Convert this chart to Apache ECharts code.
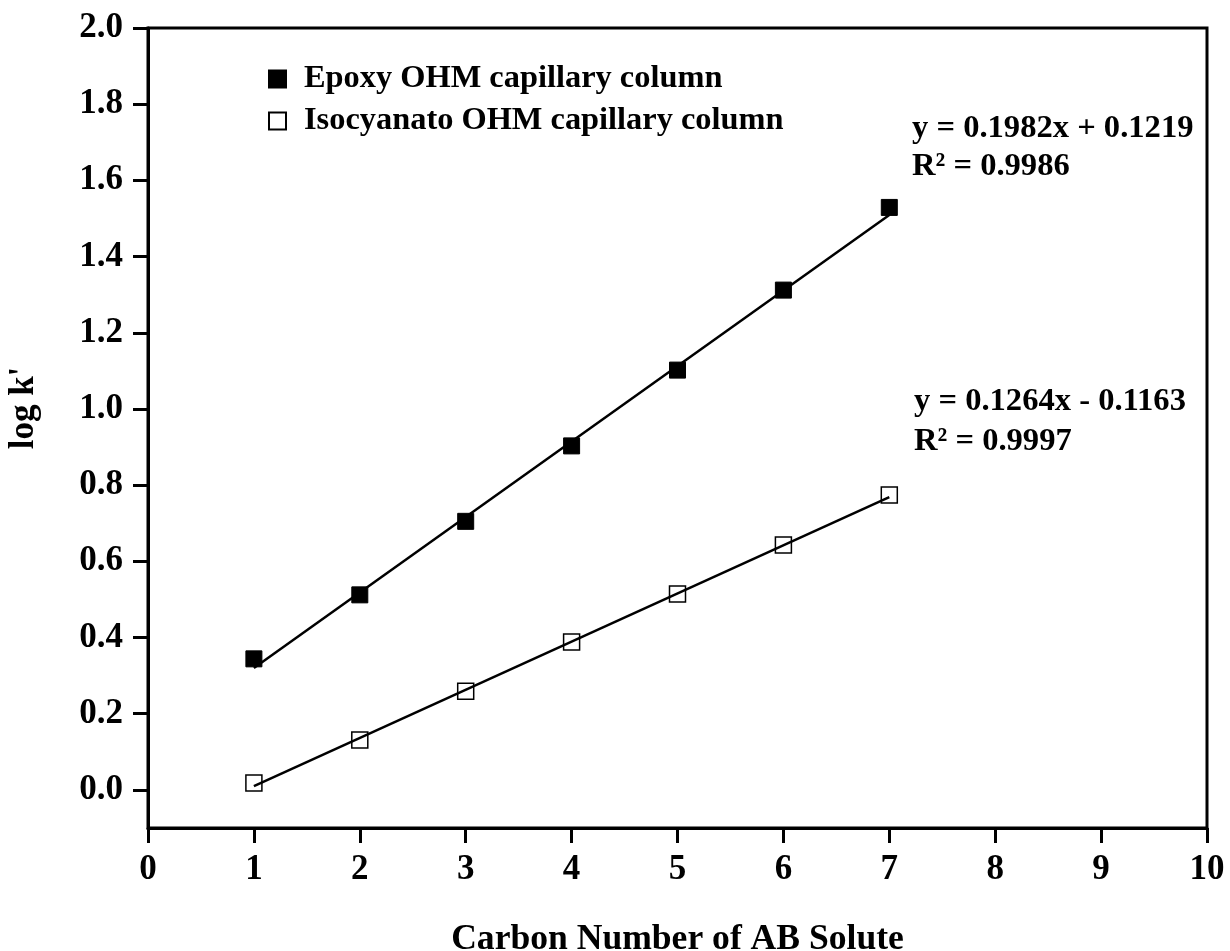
<!DOCTYPE html>
<html>
<head>
<meta charset="utf-8">
<script src="https://cdn.jsdelivr.net/npm/echarts@6/dist/echarts.min.js"></script>
<style>
  html, body { margin: 0; padding: 0; background: #fff; }
  #chart { width: 1230px; height: 951px; }
</style>
</head>
<body>
<div id="chart"></div>
<script>
// Carbon number of the alkylbenzene solutes
const carbonNumbers = [1, 2, 3, 4, 5, 6, 7];
// Measured log k' values
const epoxyLogK = [0.344, 0.512, 0.705, 0.903, 1.102, 1.312, 1.529];
const isocyanatoLogK = [0.018, 0.131, 0.259, 0.388, 0.514, 0.643, 0.774];
// Linear fits: [slope, intercept]
const epoxyFit = [0.1982, 0.1219];
const isocyanatoFit = [0.1264, -0.1163];
const epoxyR2 = '0.9986';
const isocyanatoR2 = '0.9997';
// Axis ticks
const xTicks = [0, 1, 2, 3, 4, 5, 6, 7, 8, 9, 10];
const yTicks = [0.0, 0.2, 0.4, 0.6, 0.8, 1.0, 1.2, 1.4, 1.6, 1.8, 2.0];

const seriesNames = ['Epoxy OHM capillary column', 'Isocyanato OHM capillary column'];

const FONT = '"Liberation Serif", "Times New Roman", serif';

function pairs(xs, ys) { return xs.map((x, i) => [x, ys[i]]); }
function fitLine(fit) {
  const x0 = carbonNumbers[0], x1 = carbonNumbers[carbonNumbers.length - 1];
  return [[x0, fit[0] * x0 + fit[1]], [x1, fit[0] * x1 + fit[1]]];
}
function eqText(fit) {
  const sign = fit[1] < 0 ? '-' : '+';
  return 'y = ' + fit[0].toFixed(4) + 'x ' + sign + ' ' + Math.abs(fit[1]).toFixed(4);
}

const chart = echarts.init(document.getElementById('chart'), null, { renderer: 'canvas' });

const labelStyle = { fontFamily: FONT, fontWeight: 'bold', fontSize: 35, color: '#000' };
const eqStyle = { fontFamily: FONT, fontWeight: 'bold', fontSize: 32.6, fill: '#000' };

chart.setOption({
  backgroundColor: '#fff',
  animation: false,
  grid: {
    left: 148, top: 28, right: 23, bottom: 123,
    containLabel: false, outerBoundsMode: 'none',
    show: true, borderColor: '#000', borderWidth: 3
  },
  legend: {
    data: seriesNames,
    orient: 'vertical',
    left: 268,
    top: 63,
    padding: 0,
    itemWidth: 17,
    itemHeight: 17,
    itemGap: 10,
    textStyle: { fontFamily: FONT, fontWeight: 'bold', fontSize: 32.4, color: '#000', lineHeight: 32, padding: [0, 0, 0, 13] }
  },
  xAxis: {
    type: 'value',
    min: xTicks[0],
    max: xTicks[xTicks.length - 1],
    interval: 1,
    name: 'Carbon Number of AB Solute',
    nameLocation: 'middle',
    nameGap: 94,
    nameTextStyle: { fontFamily: FONT, fontWeight: 'bold', fontSize: 35.6, color: '#000' },
    axisLine: { onZero: false, lineStyle: { color: '#000', width: 3 } },
    axisTick: { show: true, inside: false, length: 15, lineStyle: { color: '#000', width: 3 } },
    axisLabel: Object.assign({ margin: 24 }, labelStyle),
    splitLine: { show: false }
  },
  yAxis: {
    type: 'value',
    min: -0.1,
    max: 2.0,
    axisLine: { onZero: false, lineStyle: { color: '#000', width: 3 } },
    axisTick: { show: true, inside: false, length: 15, customValues: yTicks, lineStyle: { color: '#000', width: 3 } },
    axisLabel: Object.assign({ margin: 25, customValues: yTicks, formatter: v => v.toFixed(1) }, labelStyle),
    splitLine: { show: false }
  },
  graphic: [
    {
      type: 'text', x: 24, y: 408, rotation: Math.PI / 2,
      style: { text: "log k'", font: 'bold 35px ' + FONT, fill: '#000', align: 'center', verticalAlign: 'middle' }
    },
    {
      type: 'text', left: 912, top: 110,
      style: Object.assign({ text: eqText(epoxyFit) + '\nR² = ' + epoxyR2, lineHeight: 38 }, eqStyle)
    },
    {
      type: 'text', left: 914, top: 382,
      style: Object.assign({ text: eqText(isocyanatoFit) + '\nR² = ' + isocyanatoR2, lineHeight: 40 }, eqStyle)
    }
  ],
  series: [
    {
      name: 'Epoxy fit', type: 'line', data: fitLine(epoxyFit),
      symbol: 'none', lineStyle: { color: '#000', width: 2.5 }, z: 2, silent: true
    },
    {
      name: 'Isocyanato fit', type: 'line', data: fitLine(isocyanatoFit),
      symbol: 'none', lineStyle: { color: '#000', width: 2.5 }, z: 2, silent: true
    },
    {
      name: seriesNames[0], type: 'scatter', data: pairs(carbonNumbers, epoxyLogK),
      symbol: 'rect', symbolSize: 16,
      itemStyle: { color: '#000', borderColor: '#000', borderWidth: 1, opacity: 1 }, z: 3
    },
    {
      name: seriesNames[1], type: 'scatter', data: pairs(carbonNumbers, isocyanatoLogK),
      symbol: 'rect', symbolSize: 16,
      itemStyle: { color: 'rgba(255,255,255,0)', borderColor: '#000', borderWidth: 1.5, opacity: 1 }, z: 3
    }
  ]
});
</script>
</body>
</html>
